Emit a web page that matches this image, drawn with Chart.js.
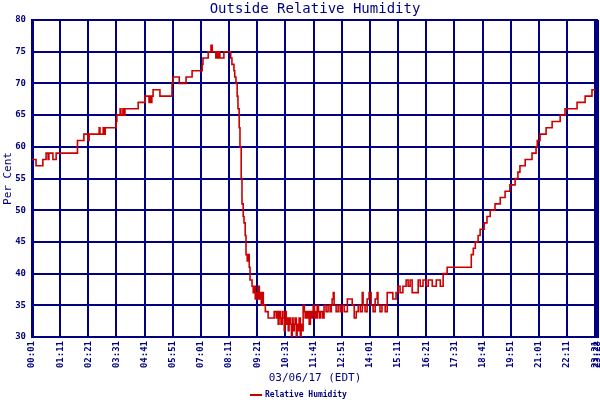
<!DOCTYPE html>
<html>
<head>
<meta charset="utf-8">
<script src="https://cdn.jsdelivr.net/npm/chart.js@4/dist/chart.umd.min.js"></script>
<style>
  html, body { margin: 0; padding: 0; background: #ffffff; }
  #wrap { width: 600px; height: 400px; }
</style>
</head>
<body>
<div id="wrap"><canvas id="chart" width="600" height="400"></canvas></div>
<script>
// minutes since midnight
const minutes = [
  1, 6, 11, 26, 28, 36, 41, 43, 51, 53, 61, 112, 114, 130, 140, 143, 165, 168, 170, 178,
  180, 183, 207, 210, 212, 220, 222, 227, 230, 232, 262, 265, 279, 282, 289, 292, 294, 297, 299, 302,
  317, 319, 347, 349, 352, 364, 367, 381, 384, 396, 399, 421, 424, 426, 436, 439, 444, 446, 449, 456,
  458, 461, 463, 466, 468, 476, 478, 493, 495, 498, 500, 503, 505, 508, 511, 513, 516, 518, 521, 523,
  526, 528, 531, 533, 536, 538, 541, 543, 546, 548, 551, 553, 556, 558, 561, 563, 566, 568, 571, 573,
  576, 578, 581, 588, 598, 603, 608, 610, 613, 615, 618, 620, 623, 625, 628, 630, 633, 635, 638, 640,
  643, 646, 648, 650, 653, 655, 658, 660, 663, 665, 668, 670, 673, 675, 678, 680, 683, 685, 688, 690,
  693, 695, 698, 700, 703, 705, 708, 710, 713, 715, 718, 723, 727, 732, 737, 742, 745, 747, 750, 752,
  757, 762, 767, 772, 777, 785, 792, 797, 802, 807, 812, 817, 822, 824, 829, 834, 839, 844, 849, 854,
  859, 861, 866, 871, 879, 884, 891, 898, 906, 911, 916, 923, 931, 936, 941, 946, 953, 961, 966, 973,
  981, 986, 996, 1006, 1016, 1023, 1033, 1090, 1093, 1098, 1103, 1110, 1115, 1125, 1132, 1140, 1152, 1165, 1177, 1189,
  1202, 1209, 1214, 1227, 1244, 1254, 1257, 1264, 1279, 1294, 1314, 1326, 1356, 1376, 1393, 1408
]
const humidity = [
  58, 58, 57, 57, 58, 59, 58, 59, 59, 58, 59, 59, 61, 62, 61, 62, 62, 63, 62, 63,
  62, 63, 63, 64, 65, 66, 65, 66, 65, 66, 66, 67, 67, 68, 68, 67, 68, 67, 68, 69,
  69, 68, 68, 70, 71, 71, 70, 70, 71, 71, 72, 72, 73, 74, 74, 75, 75, 76, 75, 75,
  74, 75, 74, 75, 74, 74, 75, 75, 74, 73, 73, 72, 71, 70, 68, 66, 63, 60, 55, 51,
  49, 48, 46, 43, 42, 43, 41, 39, 39, 38, 37, 38, 36, 37, 36, 38, 36, 37, 35, 37,
  35, 35, 34, 33, 33, 34, 33, 34, 32, 34, 33, 32, 34, 33, 31, 34, 32, 33, 31, 33,
  32, 30, 33, 31, 32, 33, 30, 32, 31, 33, 30, 32, 31, 35, 34, 33, 34, 33, 34, 32,
  34, 33, 34, 35, 33, 34, 33, 35, 34, 33, 34, 33, 35, 34, 35, 34, 35, 36, 37, 35,
  34, 35, 34, 35, 34, 36, 36, 35, 33, 34, 35, 34, 37, 35, 34, 36, 37, 35, 34, 36,
  37, 35, 34, 35, 34, 37, 37, 36, 37, 38, 37, 38, 39, 38, 39, 37, 37, 39, 38, 39,
  38, 39, 38, 39, 38, 40, 41, 41, 43, 44, 45, 46, 47, 48, 49, 50, 51, 52, 53, 54,
  55, 56, 57, 58, 59, 60, 61, 62, 63, 64, 65, 66, 67, 68, 69, 69
]

const tickMinutes = [1, 71, 141, 211, 281, 351, 421, 491, 561, 631, 701, 771, 841, 911, 981, 1051, 1121, 1191, 1261, 1331, 1401, 1408]
const tickLabels = ["00:01", "01:11", "02:21", "03:31", "04:41", "05:51", "07:01", "08:11", "09:21", "10:31", "11:41",
  "12:51", "14:01", "15:11", "16:21", "17:31", "18:41", "19:51", "21:01", "22:11", "23:21", "23:28"]
const yTicks = [30, 35, 40, 45, 50, 55, 60, 65, 70, 75, 80]

const titleText = "Outside Relative Humidity"
const yTitle = "Per Cent"
const xTitle = "03/06/17 (EDT)"
const seriesName = "Relative Humidity"

const navy = "#000080"
const red = "#cc0000"
const mono = "'DejaVu Sans Mono', 'Liberation Mono', monospace"

const textPlugin = {
  id: "textPlugin",
  afterDraw(chart) {
    const ctx = chart.ctx
    const area = chart.chartArea
    ctx.save()
    // thick right border like the original
    ctx.strokeStyle = navy
    ctx.lineWidth = 3
    ctx.beginPath()
    ctx.moveTo(area.right - 1, area.top)
    ctx.lineTo(area.right - 1, area.bottom)
    ctx.stroke()

    ctx.fillStyle = navy
    ctx.textAlign = "center"
    ctx.textBaseline = "middle"
    ctx.font = "14px " + mono
    ctx.fillText(titleText, (area.left + area.right) / 2, 9)

    ctx.font = "11px " + mono
    ctx.fillText(xTitle, (area.left + area.right) / 2, 378)

    ctx.save()
    ctx.translate(8, (area.top + area.bottom) / 2)
    ctx.rotate(-Math.PI / 2)
    ctx.fillText(yTitle, 0, 0)
    ctx.restore()

    // legend
    ctx.strokeStyle = red
    ctx.lineWidth = 2
    ctx.beginPath()
    ctx.moveTo(250, 395)
    ctx.lineTo(262, 395)
    ctx.stroke()
    ctx.font = "bold 8px " + mono
    ctx.textAlign = "left"
    ctx.fillText(seriesName, 265, 395)
    ctx.restore()
  }
}

new Chart(document.getElementById("chart"), {
  type: "line",
  data: {
    datasets: [{
      label: seriesName,
      data: minutes.map((m, i) => ({ x: m, y: humidity[i] })),
      borderColor: red,
      borderWidth: 1.6,
      pointRadius: 0,
      stepped: true,
      tension: 0
    }]
  },
  options: {
    responsive: false,
    animation: false,
    devicePixelRatio: 1,
    layout: { padding: { top: 20, right: 2, left: 0, bottom: 0 } },
    plugins: {
      legend: { display: false },
      title: { display: false },
      tooltip: { enabled: false }
    },
    scales: {
      x: {
        type: "linear",
        min: tickMinutes[0],
        max: tickMinutes[tickMinutes.length - 1],
        afterBuildTicks: (scale) => {
          scale.ticks = tickMinutes.map(v => ({ value: v }))
        },
        afterFit: (scale) => {
          scale.height = 63
          scale.paddingLeft = 0
          scale.paddingRight = 0
        },
        grid: { color: navy, lineWidth: 2, drawTicks: false },
        border: { color: navy, width: 2 },
        ticks: {
          autoSkip: false,
          minRotation: 90,
          maxRotation: 90,
          padding: 4,
          color: navy,
          font: { family: mono, size: 9, weight: "bold" },
          callback: (value) => {
            const i = tickMinutes.indexOf(value)
            return i >= 0 ? tickLabels[i] : ""
          }
        }
      },
      y: {
        min: 30,
        max: 80,
        afterBuildTicks: (scale) => {
          scale.ticks = yTicks.map(v => ({ value: v }))
        },
        afterFit: (scale) => { scale.width = 32 },
        grid: { color: navy, lineWidth: 2, drawTicks: false },
        border: { color: navy, width: 3 },
        ticks: {
          padding: 6,
          color: navy,
          font: { family: mono, size: 9, weight: "bold" }
        }
      }
    }
  },
  plugins: [textPlugin]
})
</script>
</body>
</html>
